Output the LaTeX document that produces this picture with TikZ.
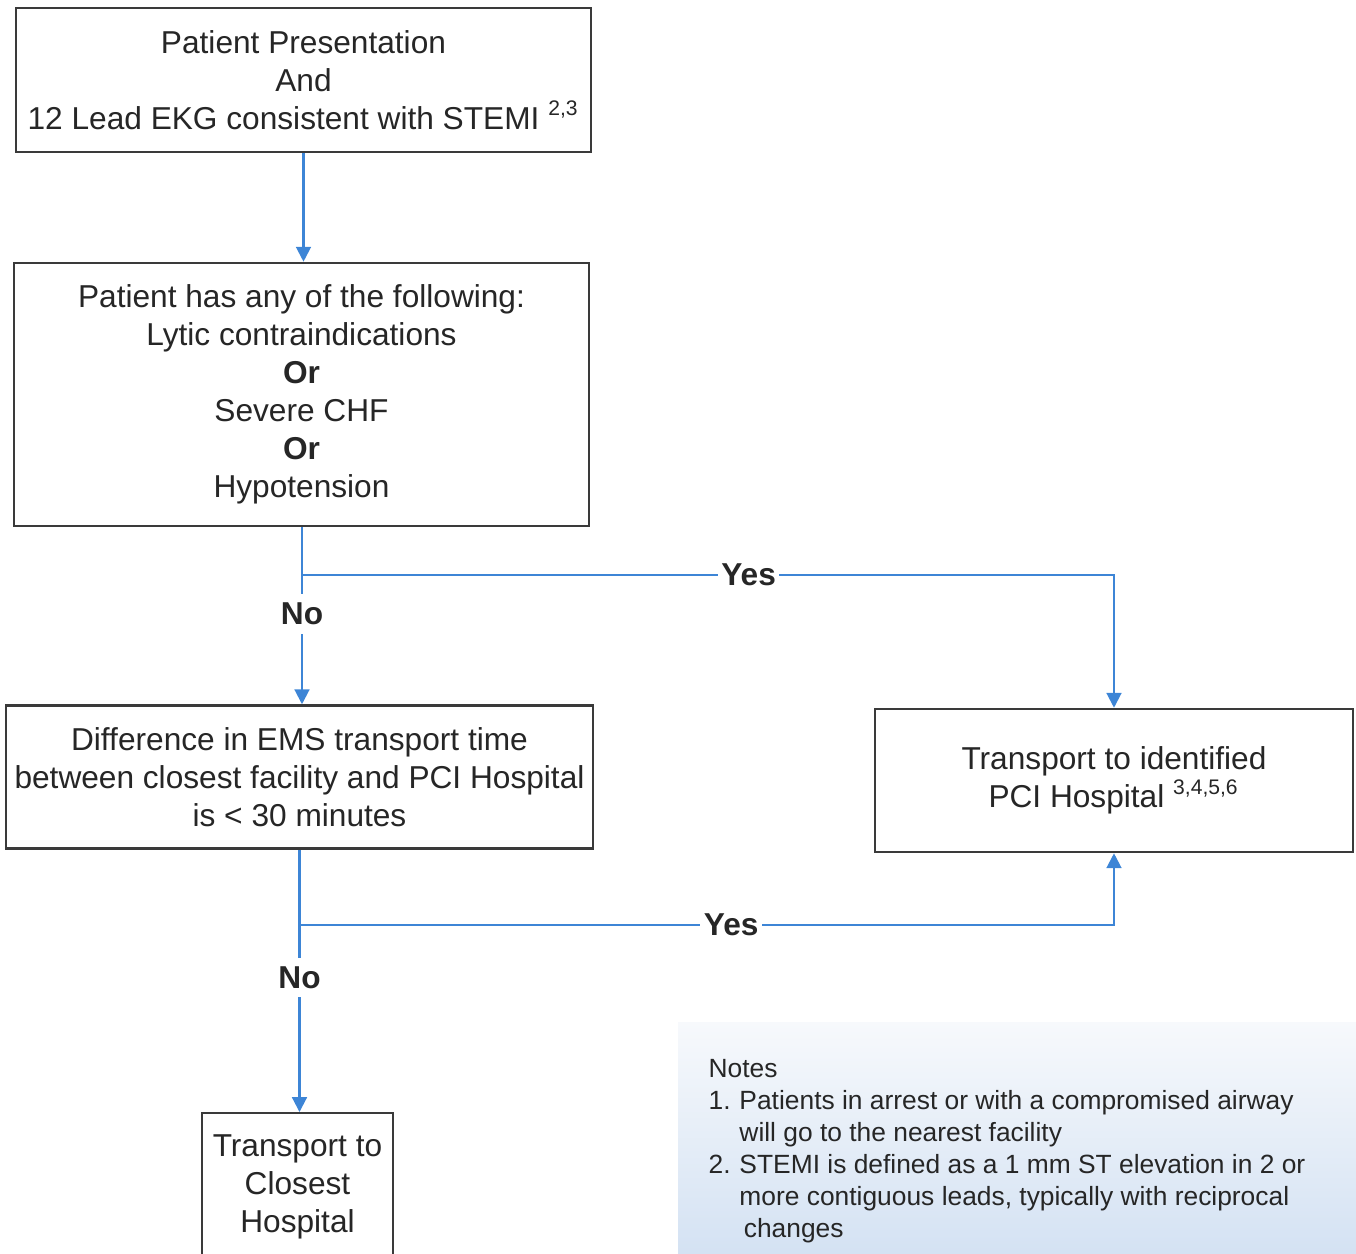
\documentclass[tikz,border=0pt]{standalone}
\usepackage{fontspec}
\setmainfont{Liberation Sans}
\usetikzlibrary{arrows.meta, positioning}
\definecolor{flowblue}{HTML}{3D85D6}
\definecolor{boxgray}{HTML}{3A3A3A}
\definecolor{inkgray}{HTML}{262626}
\definecolor{notetop}{HTML}{F7F9FC}
\definecolor{notebottom}{HTML}{D4E2F3}

\begin{document}
\begin{tikzpicture}[
    x=0.01cm, y=-0.01cm,
    box/.style={rectangle, draw=boxgray, line width=0.7pt, fill=white, align=center,
                text=inkgray, inner sep=0pt, font=\fontsize{9}{10.8}\selectfont},
    flow/.style={flowblue, line width=0.6pt},
    arrow/.style={flow, -{Triangle[width=4.2pt, length=4.2pt]}},
    lbl/.style={fill=white, inner xsep=1pt, inner ysep=2.5pt, text=inkgray, font=\fontsize{9}{10.8}\selectfont\bfseries},
    notes/.style={inner sep=0pt, text=inkgray, font=\fontsize{7.5}{9.1}\selectfont}
  ]
    \useasboundingbox (0,0) rectangle (1356,1253);
    \clip (0,0) rectangle (1356,1253);

    % notes panel
    \shade[top color=notetop, bottom color=notebottom] (678,1022) rectangle (1356,1253);
    \node[notes, anchor=north west] (notes) at (708,1054) {%
      \begin{tabular}{@{}r@{\hspace{2.5pt}}l@{}}
        \multicolumn{2}{@{}l}{Notes}\\
        1. & Patients in arrest or with a compromised airway\\
           & will go to the nearest facility\\
        2. & STEMI is defined as a 1 mm ST elevation in 2 or\\
           & more contiguous leads, typically with reciprocal\\
           & \,changes
      \end{tabular}};

    \node[box, minimum width=5.75cm, minimum height=1.44cm] (present) at (303.5,80)
      {Patient Presentation\\And\\12 Lead EKG consistent with STEMI \textsuperscript{2,3}};
    \node[box, minimum width=5.75cm, minimum height=2.63cm] (lytic) at (301.5,394.5)
      {Patient has any of the following:\\Lytic contraindications\\\textbf{Or}\\Severe CHF\\\textbf{Or}\\Hypotension};
    \node[box, minimum width=5.87cm, minimum height=1.43cm] (diff) at (299.5,777)
      {Difference in EMS transport time\\between closest facility and PCI Hospital\\is < 30 minutes};
    \node[box, minimum width=4.78cm, minimum height=1.43cm] (pci) at (1114,780.5)
      {Transport to identified\\PCI Hospital \textsuperscript{3,4,5,6}};
    \node[box, anchor=north, minimum width=1.91cm, minimum height=1.48cm] (closest) at (297.5,1112)
      {Transport to\\Closest\\Hospital};

    \coordinate (split1) at (302,575);
    \coordinate (split2) at (diff.south |- 0,925);

    \draw[arrow] (present.south) -- (present.south |- lytic.north);
    \draw[flow] (lytic.south -| split1) -- (split1);
    \draw[arrow] (split1) -- node[lbl, pos=0.55] {Yes} (split1 -| pci.north) -- (pci.north);
    \draw[arrow] (split1) -- node[lbl, pos=0.3] {No} (split1 |- diff.north);
    \draw[flow] (diff.south) -- (split2);
    \draw[arrow] (split2) -- node[lbl, pos=0.53] {Yes} (split2 -| pci.south) -- (pci.south);
    \draw[arrow] (split2) -- node[lbl, pos=0.28] {No} (split2 |- closest.north);
  \end{tikzpicture}
\end{document}
